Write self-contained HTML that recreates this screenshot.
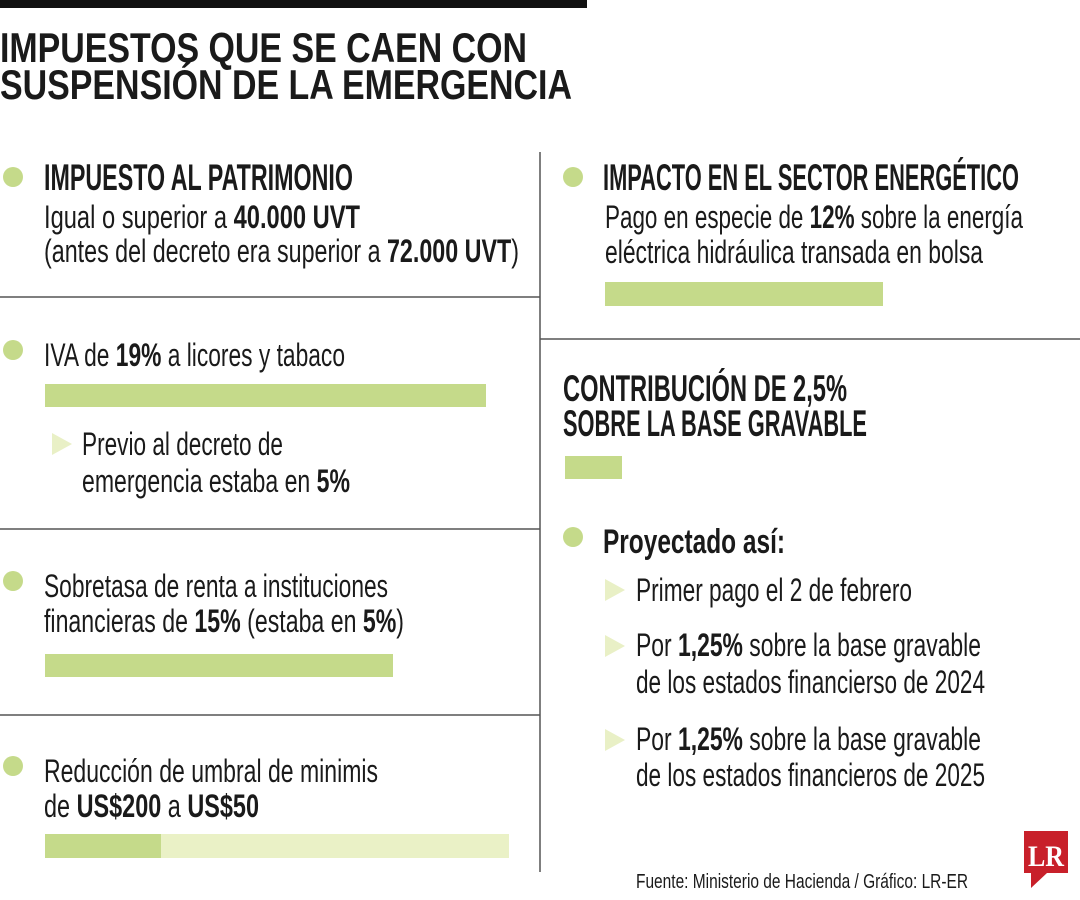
<!DOCTYPE html>
<html><head><meta charset="utf-8">
<style>
html,body{margin:0;padding:0;background:#fff;}
svg{display:block;}
text{font-family:"Liberation Sans Narrow","Liberation Sans",sans-serif;fill:#1a1a1a;}
.b{font-weight:bold;}
.t{font-family:"Liberation Sans",sans-serif;font-weight:bold;}
</style></head>
<body>
<svg width="1080" height="900" viewBox="0 0 1080 900">
<rect x="0" y="0" width="587" height="8" fill="#111"/>
<g>
<text x="0" y="62" font-size="42" class="t" textLength="527" lengthAdjust="spacingAndGlyphs">IMPUESTOS QUE SE CAEN CON</text>
<text x="0" y="99" font-size="42" class="t" textLength="572" lengthAdjust="spacingAndGlyphs">SUSPENSIÓN DE LA EMERGENCIA</text>
</g>
<g stroke="#555" stroke-width="1.5">
<line x1="540" y1="152" x2="540" y2="872"/>
<line x1="0" y1="297" x2="540" y2="297"/>
<line x1="0" y1="529" x2="540" y2="529"/>
<line x1="0" y1="715" x2="540" y2="715"/>
<line x1="540" y1="339" x2="1080" y2="339"/>
</g>
<g fill="#c5da8a">
<circle cx="13" cy="177" r="10"/><circle cx="13" cy="350" r="10"/>
<circle cx="13" cy="581" r="10"/><circle cx="13" cy="766" r="10"/>
<circle cx="573" cy="177" r="10"/><circle cx="573" cy="537" r="10"/>
</g>
<g fill="#e9f0c6">
<polygon points="52,433 72,444 52,455"/>
<polygon points="605,579 625,590 605,601"/>
<polygon points="605,635 625,646 605,657"/>
<polygon points="605,729 625,740 605,751"/>
</g>
<g>
<rect x="45" y="384" width="441" height="23" fill="#c5da8a"/>
<rect x="45" y="654" width="348" height="23" fill="#c5da8a"/>
<rect x="161" y="834" width="348" height="24" fill="#eaf1c6"/>
<rect x="45" y="834" width="116" height="24" fill="#c5da8a"/>
<rect x="605" y="282" width="278" height="24" fill="#c5da8a"/>
<rect x="565" y="456" width="57" height="23" fill="#c5da8a"/>
</g>
<g>
<text x="44" y="190" font-size="37" class="b" textLength="309" lengthAdjust="spacingAndGlyphs">IMPUESTO AL PATRIMONIO</text>
<text x="44" y="228" font-size="32" textLength="316" lengthAdjust="spacingAndGlyphs">Igual o superior a <tspan class="b">40.000 UVT</tspan></text>
<text x="44" y="262" font-size="32" textLength="475" lengthAdjust="spacingAndGlyphs">(antes del decreto era superior a <tspan class="b">72.000 UVT</tspan>)</text>
<text x="44" y="366" font-size="32" textLength="301" lengthAdjust="spacingAndGlyphs">IVA de <tspan class="b">19%</tspan> a licores y tabaco</text>
<text x="82" y="455" font-size="32" textLength="201" lengthAdjust="spacingAndGlyphs">Previo al decreto de</text>
<text x="82" y="492" font-size="32" textLength="268" lengthAdjust="spacingAndGlyphs">emergencia estaba en <tspan class="b">5%</tspan></text>
<text x="44" y="597" font-size="32" textLength="344" lengthAdjust="spacingAndGlyphs">Sobretasa de renta a instituciones</text>
<text x="44" y="632" font-size="32" textLength="360" lengthAdjust="spacingAndGlyphs">financieras de <tspan class="b">15%</tspan> (estaba en <tspan class="b">5%</tspan>)</text>
<text x="44" y="782" font-size="32" textLength="334" lengthAdjust="spacingAndGlyphs">Reducción de umbral de minimis</text>
<text x="44" y="817" font-size="32" textLength="215" lengthAdjust="spacingAndGlyphs">de <tspan class="b">US$200</tspan> a <tspan class="b">US$50</tspan></text>
</g>
<g>
<text x="603" y="190" font-size="37" class="b" textLength="416" lengthAdjust="spacingAndGlyphs">IMPACTO EN EL SECTOR ENERGÉTICO</text>
<text x="605" y="228" font-size="32" textLength="418" lengthAdjust="spacingAndGlyphs">Pago en especie de <tspan class="b">12%</tspan> sobre la energía</text>
<text x="605" y="263" font-size="32" textLength="378" lengthAdjust="spacingAndGlyphs">eléctrica hidráulica transada en bolsa</text>
<text x="563" y="401" font-size="37" class="b" textLength="284" lengthAdjust="spacingAndGlyphs">CONTRIBUCIÓN  DE 2,5%</text>
<text x="563" y="436" font-size="37" class="b" textLength="304" lengthAdjust="spacingAndGlyphs">SOBRE LA BASE GRAVABLE</text>
<text x="603" y="553" font-size="34" class="b" textLength="182" lengthAdjust="spacingAndGlyphs">Proyectado así:</text>
<text x="636" y="601" font-size="32" textLength="276" lengthAdjust="spacingAndGlyphs">Primer pago el 2 de febrero</text>
<text x="636" y="656" font-size="32" textLength="345" lengthAdjust="spacingAndGlyphs">Por <tspan class="b">1,25%</tspan> sobre la base gravable</text>
<text x="636" y="693" font-size="32" textLength="349" lengthAdjust="spacingAndGlyphs">de los estados financierso de 2024</text>
<text x="636" y="750" font-size="32" textLength="345" lengthAdjust="spacingAndGlyphs">Por <tspan class="b">1,25%</tspan> sobre la base gravable</text>
<text x="636" y="786" font-size="32" textLength="349" lengthAdjust="spacingAndGlyphs">de los estados financieros de 2025</text>
</g>
<text x="636" y="888" font-size="20" fill="#333" textLength="332" lengthAdjust="spacingAndGlyphs">Fuente: Ministerio de Hacienda / Gráfico: LR-ER</text>
<g>
<path d="M1024,831 H1068 V873 H1047 L1031,888 V873 H1024 Z" fill="#c8202a"/>
<text x="1046" y="866" font-size="30" class="b" text-anchor="middle" style="font-family:'Liberation Serif',serif;fill:#fff" textLength="36" lengthAdjust="spacingAndGlyphs">LR</text>
</g>
</svg>
</body></html>
